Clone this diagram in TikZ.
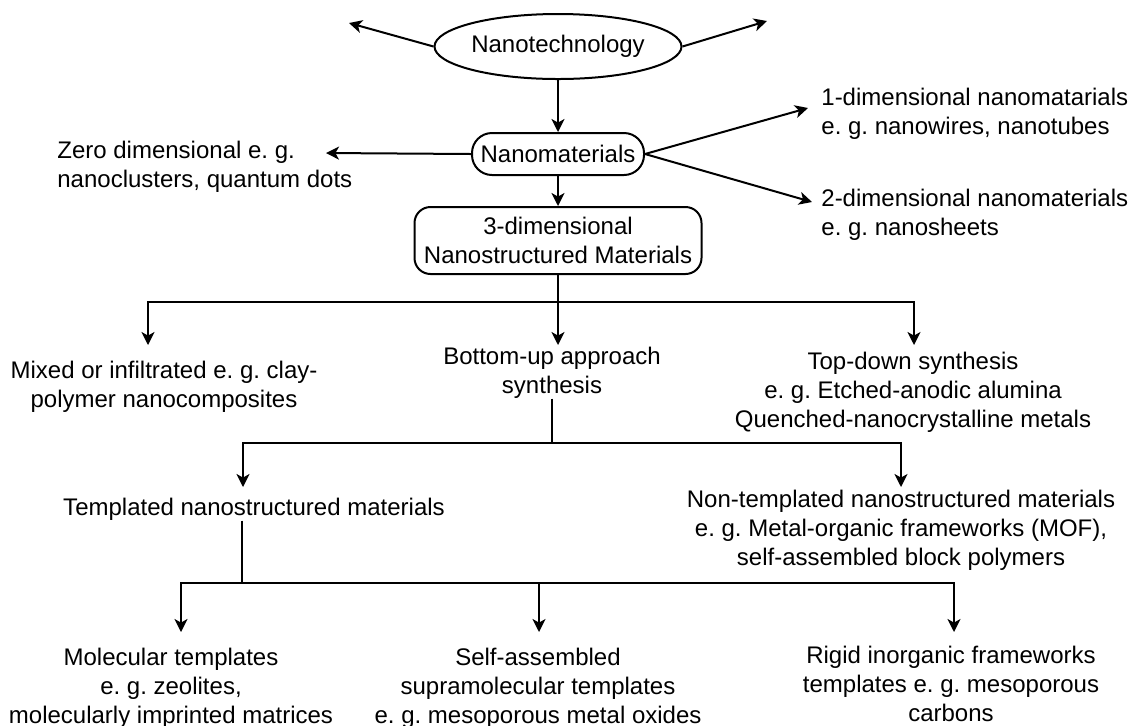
\documentclass[tikz,border=0pt]{standalone}
\usepackage{fontspec}
\setmainfont{Liberation Sans}
\usetikzlibrary{arrows.meta,shapes.geometric}
\begin{document}
\begin{tikzpicture}[x=0.5pt,y=-0.5pt,
  every node/.style={font=\fontsize{12pt}{14.5pt}\selectfont\frenchspacing, inner sep=0pt},
  ln/.style={line width=1pt},
  arr/.style={line width=1pt,-{Stealth[length=6.5pt,width=6.5pt,inset=1.8pt]}},
  txt/.style={align=center, anchor=north},
  txtl/.style={align=left, anchor=north west},
  boxst/.style={draw, line width=1pt}]
\useasboundingbox (0,0) rectangle (1135,725);

% main nodes
\node[boxst, ellipse, minimum width=123.5pt, minimum height=32.5pt] (nt) at (558,46.5) {Nanotechnology};
\node[boxst, rounded corners=10pt, minimum width=86pt, minimum height=21pt] (nm) at (558,154) {Nanomaterials};
\node[boxst, rounded corners=8pt, minimum width=143.5pt, minimum height=33.5pt, align=center] (b3) at (558,240.5) {3-dimensional\\Nanostructured Materials};

% text nodes
\node[txtl] (zero) at (57,140.5) {Zero dimensional e. g.\\nanoclusters, quantum dots};
\node[txtl] (one) at (821,87.5) {1-dimensional nanomatarials\\e. g. nanowires, nanotubes};
\node[txtl] (two) at (821,188.5) {2-dimensional nanomaterials\\e. g. nanosheets};
\node[txt] (mixed) at (164,360.5) {Mixed or infiltrated e. g. clay-\\polymer nanocomposites};
\node[txt] (bu) at (552,346.5) {Bottom-up approach\\synthesis};
\node[txt] (td) at (913,351.5) {Top-down synthesis\\e. g. Etched-anodic alumina\\Quenched-nanocrystalline metals};
\node[txt] (tm) at (254,497.5) {Templated nanostructured materials};
\node[txt] (ntm) at (901,489.5) {Non-templated nanostructured materials\\e. g. Metal-organic frameworks (MOF),\\self-assembled block polymers};
\node[txt] (mol) at (171,647.5) {Molecular templates\\e. g. zeolites,\\molecularly imprinted matrices};
\node[txt] (sa) at (538,647.5) {Self-assembled\\supramolecular templates\\e. g. mesoporous metal oxides};
\node[txt] (rig) at (951,646) {Rigid inorganic frameworks\\templates e. g. mesoporous\\carbons};

% free ends and junctions
\coordinate (tl) at (349,23);
\coordinate (tr) at (767,21);
\coordinate (tz) at (326,153);
\coordinate (t1) at (808,108);
\coordinate (t2) at (812,202);

\coordinate (j1) at (558,302);
\coordinate (j1l) at (148,302);
\coordinate (j1r) at (914,302);
\coordinate (a1l) at (148,345);
\coordinate (a1m) at (558,345);
\coordinate (a1r) at (914,345);

\coordinate (j2) at (552,443);
\coordinate (j2l) at (243,443);
\coordinate (j2r) at (901,443);
\coordinate (a2l) at (243,487);
\coordinate (a2r) at (901,487);

\coordinate (j3) at (242,583);
\coordinate (j3l) at (181,583);
\coordinate (j3r) at (954,583);
\coordinate (a3l) at (181,632);
\coordinate (a3m) at (539,632);
\coordinate (a3r) at (954,632);

% connectors
\draw[arr] (nt.west) -- (tl);
\draw[arr] (nt.east) -- (tr);
\draw[arr] (nt.south) -- (nm.north);
\draw[arr] (nm.west) -- (tz);
\draw[arr] (nm.east) -- (t1);
\draw[arr] (nm.east) -- (t2);
\draw[arr] (nm.south) -- (b3.north);

\draw[ln] (b3.south) -- (j1);
\draw[arr] (j1) -- (j1l) -- (a1l);
\draw[arr] (j1) -- (j1r) -- (a1r);
\draw[arr] (j1) -- (a1m);

\draw[ln] (bu.south) -- (j2);
\draw[arr] (j2) -- (j2l) -- (a2l);
\draw[arr] (j2) -- (j2r) -- (a2r);

\draw[ln] (tm.south -| j3) -- (j3);
\draw[arr] (j3) -- (j3l) -- (a3l);
\draw[arr] (j3) -- (j3r) -- (a3r);
\draw[arr] (a3m |- j3) -- (a3m);
\end{tikzpicture}
\end{document}
